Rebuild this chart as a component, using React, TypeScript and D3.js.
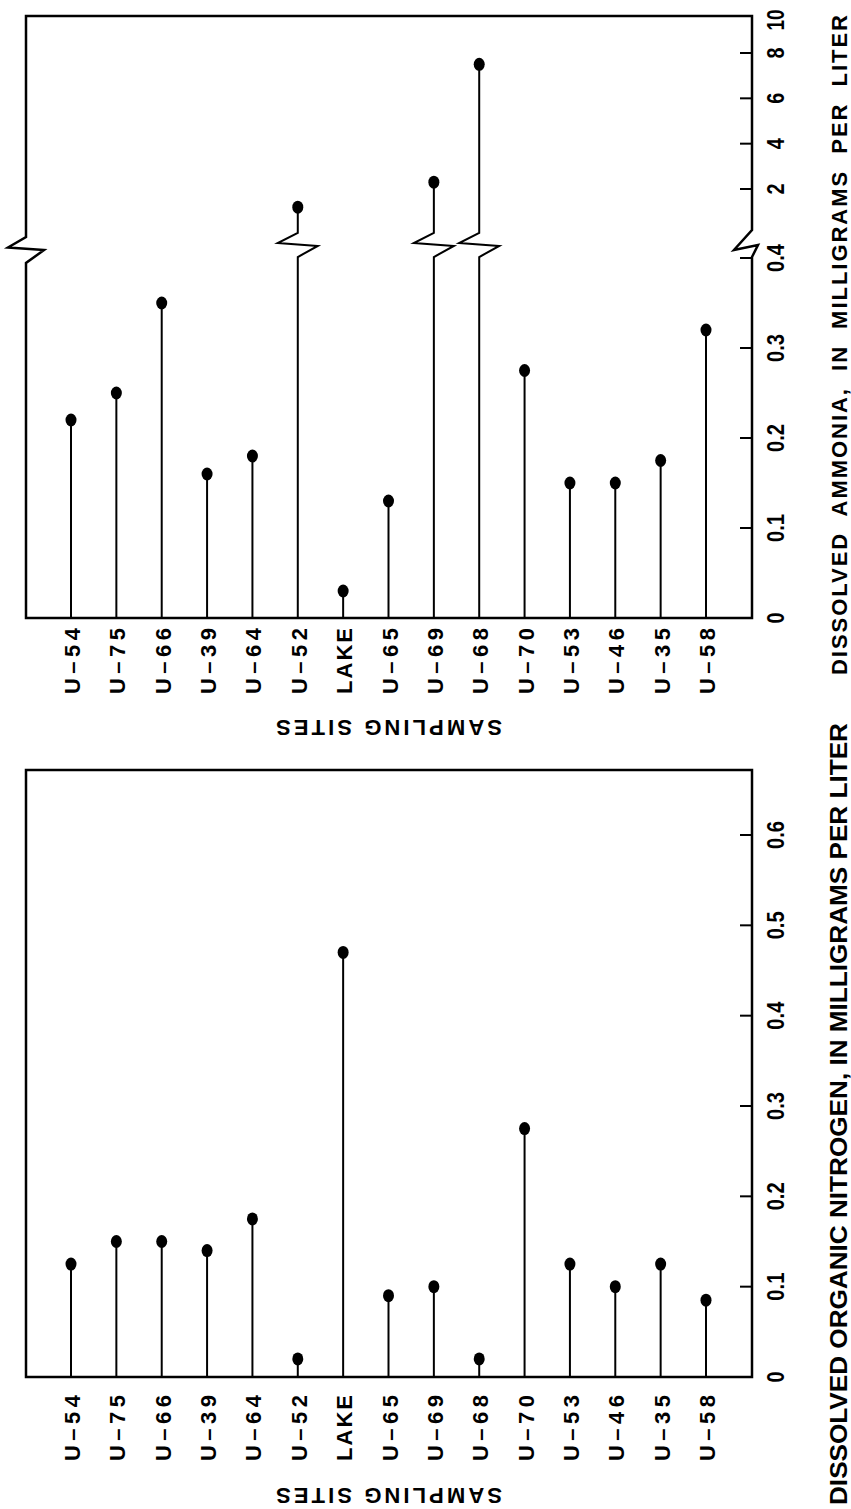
import React from 'react';
import * as d3 from 'd3';

// sampling sites, left to right
const sites = ['U–54', 'U–75', 'U–66', 'U–39', 'U–64', 'U–52', 'LAKE', 'U–65', 'U–69', 'U–68', 'U–70', 'U–53', 'U–46', 'U–35', 'U–58'];

// dissolved ammonia, mg/L
const ammonia = [0.22, 0.25, 0.35, 0.16, 0.18, 1.2, 0.03, 0.13, 2.3, 7.5, 0.275, 0.15, 0.15, 0.175, 0.32];

// dissolved organic nitrogen, mg/L
const organicN = [0.125, 0.15, 0.15, 0.14, 0.175, 0.02, 0.47, 0.09, 0.1, 0.02, 0.275, 0.125, 0.1, 0.125, 0.085];

const ammoniaLowTicks = [0, 0.1, 0.2, 0.3, 0.4];
const ammoniaHighTicks = [2, 4, 6, 8, 10];
const organicTicks = [0, 0.1, 0.2, 0.3, 0.4, 0.5, 0.6];

const ammoniaTitle = 'DISSOLVED  AMMONIA,  IN  MILLIGRAMS  PER  LITER';
const organicTitle = 'DISSOLVED ORGANIC NITROGEN, IN MILLIGRAMS PER LITER';
const sitesTitle = 'SAMPLING SITES';

const W = 851;
const H = 1509;
const left = 26;
const right = 752;
const font = '"Liberation Sans", Arial, Helvetica, sans-serif';

const x = d3.scalePoint<string>().domain(sites).range([71, 706]);

// upper panel: broken axis
const yLow = d3.scaleLinear().domain([0, 0.4]).range([618, 258]);
const yHigh = d3.scaleLinear().domain([2, 8, 10]).range([189, 53, 16]);
const upperTop = yHigh(10);
const zigBottom = yLow(0.4) - 1;
const zigTop = zigBottom - 24;

// lower panel
const yOrg = d3.scaleLinear().domain([0, 0.6]).range([1377, 835]);
const lowerTop = 770;

function fmt(v: number) {
    return v === 0 ? '0' : String(v);
}

// condensed-looking tick label width
function labelLen(s: string) {
    return s.length === 1 ? 11 : s.length === 2 ? 21 : 28;
}

export default function App() {
    const zero = yLow(0);
    const orgZero = yOrg(0);

    return (
        <div style={{ position: 'absolute', left: 0, top: 0 }}>
            <svg width={W} height={H} style={{ display: 'block', background: '#fff' }}>
                <g fill="none" stroke="#000" strokeLinejoin="miter">
                    {/* upper frame: left side (break), top, right axis (break) */}
                    <path
                        d={`M${left},${zero} L${left},${zigBottom + 6} L${left + 18},${zigTop + 4 + 13} L${left - 18},${zigTop + 4 + 10.5} L${left},${zigTop + 4} L${left},${upperTop} L${right},${upperTop} L${right},${zigTop - 3} L${right - 18},${zigTop + 17} L${right + 6},${zigTop + 12} L${right},${zigBottom} L${right},${zero} Z`}
                        strokeWidth={2.5}
                    />
                    {/* lower frame */}
                    <rect x={left} y={lowerTop} width={right - left} height={orgZero - lowerTop} strokeWidth={2.5} />

                    {/* ticks */}
                    {ammoniaLowTicks.filter((t) => t > 0).map((t) => (
                        <line key={'lt' + t} x1={right - 12} x2={right} y1={yLow(t)} y2={yLow(t)} strokeWidth={2} />
                    ))}
                    {ammoniaHighTicks.filter((t) => yHigh(t) > upperTop + 2).map((t) => (
                        <line key={'ht' + t} x1={right - 12} x2={right} y1={yHigh(t)} y2={yHigh(t)} strokeWidth={2} />
                    ))}
                    {organicTicks.filter((t) => t > 0).map((t) => (
                        <line key={'ot' + t} x1={right - 12} x2={right} y1={yOrg(t)} y2={yOrg(t)} strokeWidth={2} />
                    ))}

                    {/* stems */}
                    {sites.map((s, i) => {
                        const v = ammonia[i];
                        const px = x(s) as number;
                        const d = v <= 0.4
                            ? `M${px},${zero} L${px},${yLow(v)}`
                            : `M${px},${zero} L${px},${zigBottom} ` +
                              `L${px + 20},${zigTop + 13} L${px - 20},${zigTop + 10} L${px},${zigTop} L${px},${yHigh(v)}`;
                        return <path key={'as' + s} d={d} strokeWidth={2} />;
                    })}
                    {sites.map((s, i) => (
                        <line key={'os' + s} x1={x(s)} x2={x(s)} y1={orgZero} y2={yOrg(organicN[i])} strokeWidth={2} />
                    ))}
                </g>

                {/* dots */}
                <g fill="#000">
                    {sites.map((s, i) => {
                        const v = ammonia[i];
                        return <ellipse key={'ad' + s} cx={x(s)} cy={v <= 0.4 ? yLow(v) : yHigh(v)} rx={5.5} ry={6.5} />;
                    })}
                    {sites.map((s, i) => (
                        <ellipse key={'od' + s} cx={x(s)} cy={yOrg(organicN[i])} rx={5.5} ry={6.5} />
                    ))}
                </g>

                <g fontFamily={font} fontWeight="bold" fill="#000">
                    {/* tick labels */}
                    {ammoniaLowTicks.map((t) => (
                        <text key={'ll' + t} transform={`translate(784,${yLow(t)}) rotate(-90)`} textAnchor="middle" fontSize={23} textLength={labelLen(fmt(t))} lengthAdjust="spacingAndGlyphs">{fmt(t)}</text>
                    ))}
                    {ammoniaHighTicks.map((t) => (
                        <text key={'hl' + t} transform={`translate(784,${Math.max(yHigh(t), upperTop + 4)}) rotate(-90)`} textAnchor="middle" fontSize={23} textLength={labelLen(fmt(t))} lengthAdjust="spacingAndGlyphs">{fmt(t)}</text>
                    ))}
                    {organicTicks.map((t) => (
                        <text key={'ol' + t} transform={`translate(784,${yOrg(t)}) rotate(-90)`} textAnchor="middle" fontSize={23} textLength={labelLen(fmt(t))} lengthAdjust="spacingAndGlyphs">{fmt(t)}</text>
                    ))}

                    {/* site labels */}
                    {sites.map((s) => (
                        <text key={'ul' + s} transform={`translate(${(x(s) as number) + 9},628) rotate(-90)`} textAnchor="end" fontSize={22} textLength={66} lengthAdjust="spacing">{s}</text>
                    ))}
                    {sites.map((s) => (
                        <text key={'bl' + s} transform={`translate(${(x(s) as number) + 9},1395) rotate(-90)`} textAnchor="end" fontSize={22} textLength={66} lengthAdjust="spacing">{s}</text>
                    ))}

                    {/* upside-down site titles */}
                    <text transform={`translate(${(left + right) / 2},720) rotate(180)`} textAnchor="middle" fontSize={22} textLength={226} lengthAdjust="spacing">{sitesTitle}</text>
                    <text transform={`translate(${(left + right) / 2},1488) rotate(180)`} textAnchor="middle" fontSize={22} textLength={226} lengthAdjust="spacing">{sitesTitle}</text>

                    {/* value axis titles */}
                    <text transform={`translate(847,345) rotate(-90)`} textAnchor="middle" fontSize={22} textLength={660} lengthAdjust="spacing" style={{ whiteSpace: 'pre' }}>{ammoniaTitle}</text>
                    <text transform={`translate(847,1114) rotate(-90)`} textAnchor="middle" fontSize={23} textLength={782} lengthAdjust="spacingAndGlyphs">{organicTitle}</text>
                </g>
            </svg>
        </div>
    );
}
